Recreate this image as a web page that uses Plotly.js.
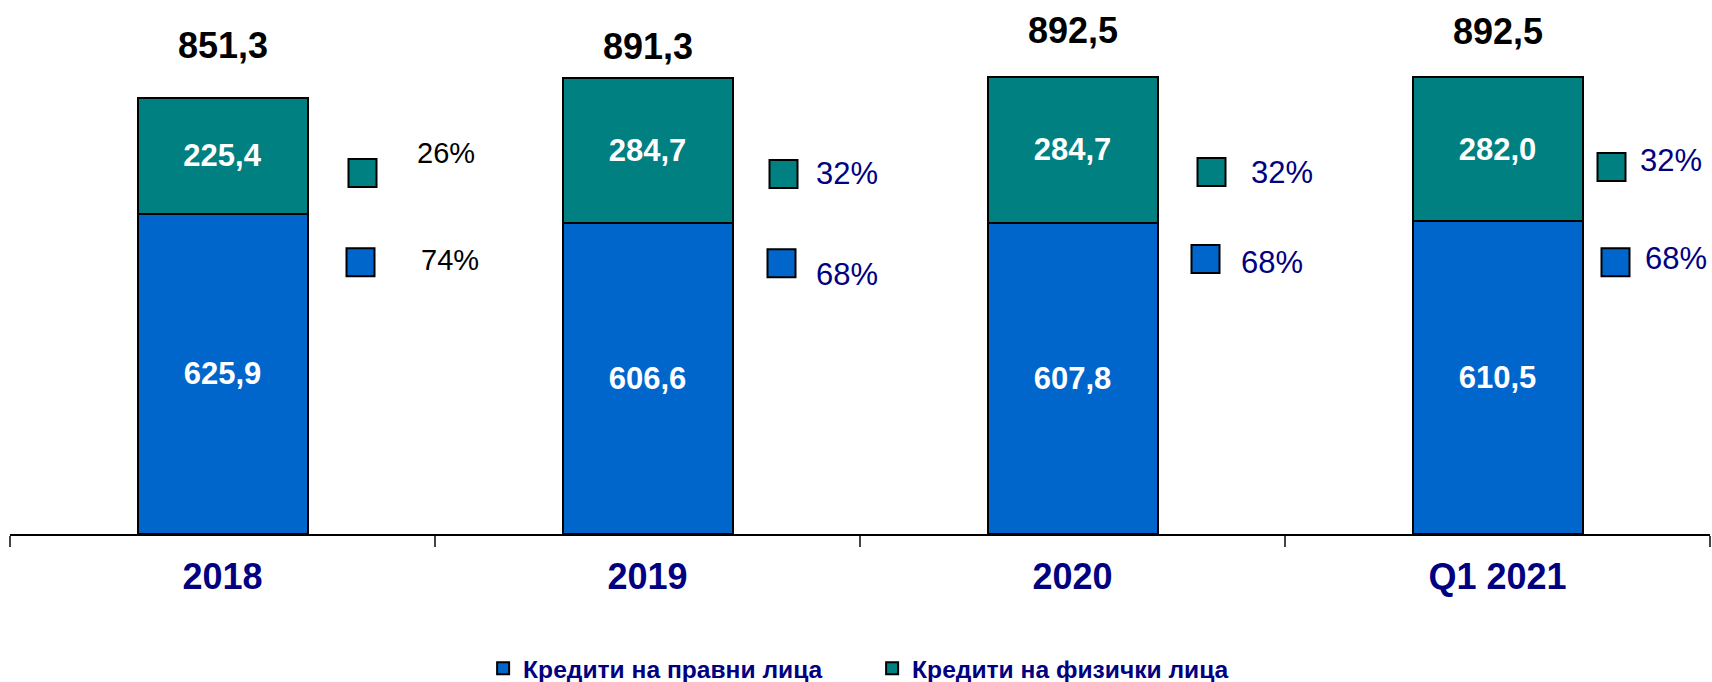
<!DOCTYPE html>
<html>
<head>
<meta charset="utf-8">
<script src="https://cdn.plot.ly/plotly-3.0.1.min.js"></script>
<style>html,body{margin:0;padding:0;background:#fff;}#chart{width:1712px;height:682px;}</style>
</head>
<body>
<div id="chart"></div>
<script>
// ---- data ----
const categories = ['2018', '2019', '2020', 'Q1 2021'];
const pravni = [625.9, 606.6, 607.8, 610.5];      // Кредити на правни лица
const fizicki = [225.4, 284.7, 284.7, 282.0];     // Кредити на физички лица
const totals = [851.3, 891.3, 892.5, 892.5];
const pctFizicki = [26, 32, 32, 32];
const pctPravni = [74, 68, 68, 68];
const seriesNames = ['Кредити на правни лица', 'Кредити на физички лица'];

// ---- placement / style (not data) ----
const CAT_PX = 425;
const FONT = 'Liberation Sans, Arial, sans-serif';
const NAVY = '#000080';
const BLUE = '#0066CC';
const TEAL = '#008080';
const place = {
  totalShift: [53, 31, 47, 46],
  sqTealX: [140, 136, 139, 114], sqTealY: [705, 703, 707, 717],
  sqBlueX: [138, 134, 133, 118], sqBlueY: [531, 529, 537, 531],
  txtTealX: [223, 199, 209, 173], txtTealY: [744, 705, 707, 730],
  txtBlueX: [227, 199, 199, 178], txtBlueY: [535, 506, 531, 539],
  pctColor: ['#000000', NAVY, NAVY, NAVY],
  pctSize: [29, 31, 31, 31]
};

const fmt = v => v.toFixed(1).replace('.', ',');
const idx = categories.map((c, i) => i);

const barCommon = {
  type: 'bar',
  x: categories,
  width: 0.4,
  textposition: 'inside',
  insidetextanchor: 'middle',
  textangle: 0,
  textfont: {family: FONT, size: 31, color: '#ffffff', weight: 'bold'},
  hoverinfo: 'skip'
};

const traces = [
  Object.assign({}, barCommon, {
    name: seriesNames[0], y: pravni, text: pravni.map(fmt),
    marker: {color: BLUE, line: {color: '#000', width: 2}}
  }),
  Object.assign({}, barCommon, {
    name: seriesNames[1], y: fizicki, text: fizicki.map(fmt),
    marker: {color: TEAL, line: {color: '#000', width: 2}}
  }),
  {
    type: 'scatter', mode: 'markers', xaxis: 'x2', yaxis: 'y', showlegend: false, hoverinfo: 'skip',
    x: idx.map(i => i + place.sqTealX[i] / CAT_PX), y: place.sqTealY,
    marker: {symbol: 'square', size: 28, color: TEAL, line: {color: '#000', width: 2}}
  },
  {
    type: 'scatter', mode: 'markers', xaxis: 'x2', yaxis: 'y', showlegend: false, hoverinfo: 'skip',
    x: idx.map(i => i + place.sqBlueX[i] / CAT_PX), y: place.sqBlueY,
    marker: {symbol: 'square', size: 28, color: BLUE, line: {color: '#000', width: 2}}
  }
];

const annotations = [];
idx.forEach(i => {
  annotations.push({
    xref: 'x2', yref: 'y', x: i, y: totals[i], yshift: place.totalShift[i],
    text: fmt(totals[i]), showarrow: false, xanchor: 'center', yanchor: 'middle',
    font: {family: FONT, size: 36, color: '#000', weight: 'bold'}
  });
  annotations.push({
    xref: 'x2', yref: 'y', x: i + place.txtTealX[i] / CAT_PX, y: place.txtTealY[i],
    text: pctFizicki[i] + '%', showarrow: false, xanchor: 'center', yanchor: 'middle',
    font: {family: FONT, size: place.pctSize[i], color: place.pctColor[i]}
  });
  annotations.push({
    xref: 'x2', yref: 'y', x: i + place.txtBlueX[i] / CAT_PX, y: place.txtBlueY[i],
    text: pctPravni[i] + '%', showarrow: false, xanchor: 'center', yanchor: 'middle',
    font: {family: FONT, size: place.pctSize[i], color: place.pctColor[i]}
  });
});

const layout = {
  width: 1712, height: 682,
  margin: {l: 10, r: 2, t: 22, b: 148, autoexpand: false},
  paper_bgcolor: '#fff', plot_bgcolor: '#fff',
  barmode: 'stack',
  showlegend: true,
  legend: {
    orientation: 'h', x: 0.2783, xanchor: 'left', y: -0.262, yanchor: 'middle',
    font: {family: FONT, size: 24.6, color: NAVY, weight: 'bold'},
    entrywidth: 344, traceorder: 'normal'
  },
  xaxis: {
    type: 'category', categoryorder: 'array', categoryarray: categories,
    range: [-0.5, 3.5], automargin: false,
    showline: true, linecolor: '#000', linewidth: 1.5,
    tickson: 'boundaries', ticks: 'outside', ticklen: 11, tickwidth: 1.5, tickcolor: '#444',
    ticklabelstandoff: 10,
    tickfont: {family: FONT, size: 36, color: NAVY, weight: 'bold'},
    showgrid: false, zeroline: false, fixedrange: true
  },
  xaxis2: {
    overlaying: 'x', range: [-0.5, 3.5], visible: false, fixedrange: true
  },
  yaxis: {range: [0, 1000], visible: false, showgrid: false, zeroline: false, fixedrange: true, automargin: false},
  annotations: annotations,
  hovermode: false
};

Plotly.newPlot('chart', traces, layout, {displayModeBar: false, staticPlot: true});
</script>
</body>
</html>
